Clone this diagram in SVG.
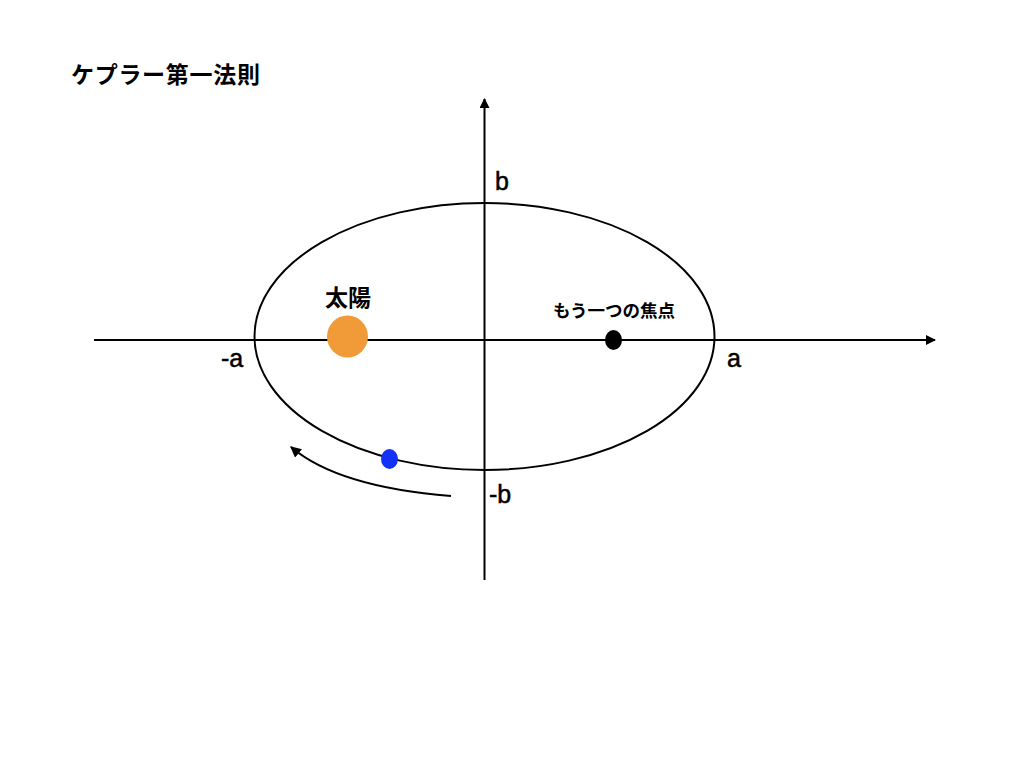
<svg xmlns="http://www.w3.org/2000/svg" width="1024" height="768" viewBox="0 0 1024 768">
<defs>
<style>
.ax{stroke:#000;stroke-width:2;fill:none}
.lbl{font-family:"Liberation Sans",Arial,sans-serif;font-size:25px;fill:#000;stroke:#000;stroke-width:0.5}
.jp{font-family:"Noto Sans CJK JP","Noto Sans",sans-serif;font-weight:bold;fill:#000}
</style>
<marker id="ah" viewBox="0 0 10 10" refX="9" refY="5" markerWidth="10" markerHeight="10" markerUnits="userSpaceOnUse" orient="auto">
<path d="M0,0 L10,5 L0,10 Z" fill="#000"/>
</marker>
<marker id="ah2" viewBox="0 0 10 10" refX="9" refY="5" markerWidth="11" markerHeight="11" markerUnits="userSpaceOnUse" orient="auto">
<path d="M0,0 L10,5 L0,10 Z" fill="#000"/>
</marker>
</defs>
<rect width="1024" height="768" fill="#fff"/>
<text id="title" class="jp" x="71" y="83" font-size="23" letter-spacing="0.7">ケプラー第一法則</text>
<g id="connectors">
<line id="x-axis" class="ax" x1="94" y1="340" x2="935" y2="340" marker-end="url(#ah)"/>
<line id="y-axis" class="ax" x1="484.5" y1="580" x2="484.5" y2="99" marker-end="url(#ah)"/>
<path id="motion" class="ax" d="M451,496 Q338,487 291,447" marker-end="url(#ah2)"/>
</g>
<g id="orbit"><ellipse cx="484.5" cy="336.5" rx="230" ry="133.5" class="ax"/></g>
<g id="sun">
<ellipse cx="347.5" cy="336.5" rx="20.5" ry="21" fill="#F19A38"/>
<text class="jp" x="348" y="306" font-size="23" text-anchor="middle">太陽</text>
</g>
<g id="focus">
<ellipse cx="613.5" cy="340" rx="8.5" ry="10" fill="#000"/>
<text class="jp" x="614" y="317" font-size="17.5" text-anchor="middle">もう一つの焦点</text>
</g>
<g id="planet"><ellipse cx="389.5" cy="459" rx="8.5" ry="10" fill="#1432F5"/></g>
<g id="labels">
<text class="lbl" x="495" y="190">b</text>
<text class="lbl" x="727" y="367">a</text>
<text class="lbl" x="221" y="367">-a</text>
<text class="lbl" x="489" y="503">-b</text>
</g>
</svg>
